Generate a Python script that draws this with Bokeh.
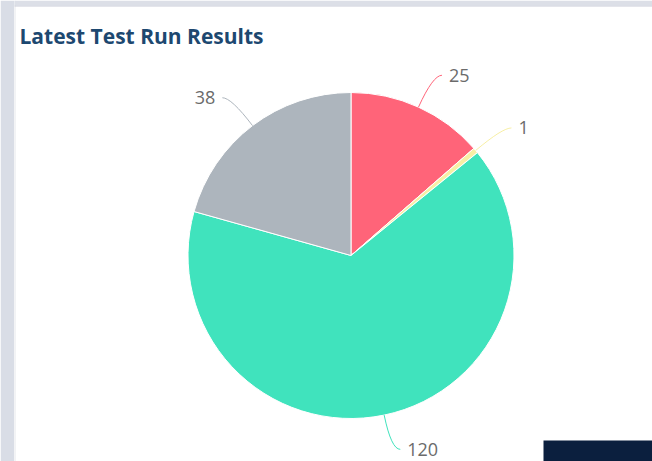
import numpy as np
from bokeh.plotting import figure
from bokeh.models import Range1d, ColumnDataSource
from bokeh.core.properties import value
from bokeh.embed import file_html
from bokeh.resources import INLINE

# ---- data ----
title = "Latest Test Run Results"
categories = ["Failed", "Skipped", "Passed", "Other"]
counts = [25, 1, 120, 38]
colors = ["#FF6479", "#F7EFA5", "#40E3BD", "#ADB5BD"]

# ---- layout ----
W, H = 652, 461
CX, CY, R = 350.5, 206.0, 163.0
L1, L2, GAP = 35.0, 9.0, 7.0

p = figure(width=W, height=H, x_range=Range1d(0, W), y_range=Range1d(0, H),
           output_backend="svg", toolbar_location=None, min_border=0)
p.axis.visible = False
p.grid.visible = False
p.outline_line_color = None
p.background_fill_color = "white"
p.border_fill_color = "white"

# page chrome: left strip, top bar, bottom dark button
p.quad(left=[0], right=[13.5], bottom=[0], top=[H], fill_color="#D9DDE6", line_color=None)
p.segment(x0=[14.5], y0=[0], x1=[14.5], y1=[H], line_color="#E6E8EC", line_width=1)
p.quad(left=[14], right=[W], bottom=[H - 5], top=[H], fill_color="#DCDFE7", line_color=None)
p.segment(x0=[14], y0=[H - 5.5], x1=[W], y1=[H - 5.5], line_color="#C9CCD8", line_width=1)
p.quad(left=[543], right=[W], bottom=[0], top=[21], fill_color="#0B1F3E", line_color=None)

# pie
vals = np.array(counts, dtype=float)
cum = np.concatenate([[0.0], np.cumsum(vals)]) / vals.sum()
th0 = cum[:-1] * 2 * np.pi  # clockwise from top
th1 = cum[1:] * 2 * np.pi
src = ColumnDataSource(dict(
    cat=categories, count=counts, color=colors,
    start=np.pi / 2 - th1, end=np.pi / 2 - th0,
))
p.wedge(x=CX, y=CY, radius=R, start_angle="start", end_angle="end",
        fill_color="color", line_color="white", line_width=1, source=src)

# leader lines + labels
mid = (th0 + th1) / 2
s, c = np.sin(mid), np.cos(mid)
sign = np.where(s >= 0, 1.0, -1.0)
x0 = CX + R * s
y0 = CY + R * c
xc = CX + (R + L1) * s
yc = np.maximum(CY + (R + L1) * c, 10.0)
x1 = xc + sign * L2
y1 = yc
lx = x1 + sign * GAP
align = ["left" if v > 0 else "right" for v in sign]

p.quadratic(x0=x0, y0=y0, x1=x1, y1=y1, cx=xc, cy=yc,
            line_color=colors, line_width=1)
lab = ColumnDataSource(dict(x=lx, y=y1, text=[str(v) for v in counts], align=align))
p.text(x="x", y="y", text="text", text_align="align", text_baseline="middle",
       text_font=value("Open Sans"), text_font_size="18px", text_color="#6B6B6B",
       source=lab)

# title
p.text(x=[19], y=[H - 35], text=[title], text_font=value("Open Sans"),
       text_font_style="bold", text_font_size="21px", text_color="#1D4870",
       text_baseline="alphabetic")

open("out.html", "w").write(file_html(p, INLINE))
